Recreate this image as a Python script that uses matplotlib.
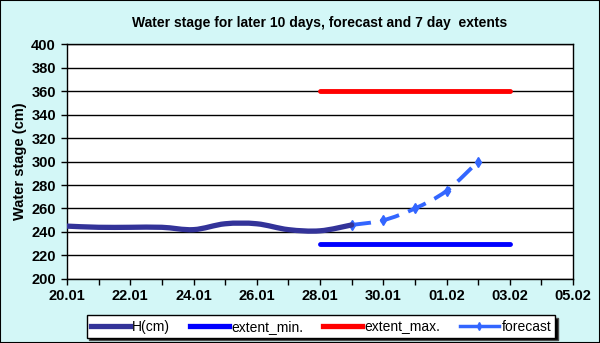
import numpy as np
import matplotlib
matplotlib.use("Agg")
import matplotlib.pyplot as plt
from matplotlib.path import Path
from matplotlib.patches import PathPatch, Rectangle
from matplotlib.lines import Line2D

# ---- data ----
tick_labels = ["20.01", "22.01", "24.01", "26.01", "28.01", "30.01", "01.02", "03.02", "05.02"]
h_days = [0, 1, 2, 3, 4, 5, 6, 7, 8, 9]          # days after 20.01
h_values = [245, 244, 244, 244, 242, 247, 247, 242, 241, 246]
fc_days = [9, 10, 11, 12, 13]
fc_values = [246, 250, 260, 275, 300]
ext_days = [8, 14]
ext_min = [230, 230]
ext_max = [360, 360]

title = "Water stage for later 10 days, forecast and 7 day  extents"
ylabel = "Water stage (cm)"

def smooth_path(xs, ys):
    pts = np.column_stack([xs, ys]).astype(float)
    n = len(pts)
    verts = [pts[0]]
    codes = [Path.MOVETO]
    for i in range(n - 1):
        p0 = pts[i - 1] if i > 0 else pts[i]
        p1 = pts[i]
        p2 = pts[i + 1]
        p3 = pts[i + 2] if i + 2 < n else pts[i + 1]
        c1 = p1 + (p2 - p0) / 6.0
        c2 = p2 - (p3 - p1) / 6.0
        verts += [c1, c2, p2]
        codes += [Path.CURVE4] * 3
    return Path(verts, codes)

FONT = "Liberation Sans"
bg = "#d3f7f7"
fig = plt.figure(figsize=(6.0, 3.43), dpi=100, facecolor=bg)
ax = fig.add_axes([0.1117, 0.1866, 0.955 - 0.1117, 0.8717 - 0.1866])
ax.set_facecolor("white")

ax.set_xlim(0, 16)
ax.set_ylim(200, 400)
ax.set_yticks(np.arange(200, 401, 20))
ax.set_xticks(np.arange(0, 17, 2))
ax.set_xticklabels(tick_labels)
ax.set_xticks(np.arange(0, 17, 1), minor=True)
ax.yaxis.grid(True, color="black", linewidth=1.0)
ax.set_axisbelow(True)
for s in ax.spines.values():
    s.set_color("black")
    s.set_linewidth(1.0)
ax.tick_params(axis="both", which="both", direction="out", color="black", length=4, width=1)
ax.tick_params(axis="x", labelsize=10.5, pad=3)
ax.tick_params(axis="y", labelsize=10.5, pad=4)
for lab in ax.get_xticklabels() + ax.get_yticklabels():
    lab.set_fontweight("bold")
    lab.set_family(FONT)

# extents
ax.plot(ext_days, ext_min, color="#0000ff", linewidth=3.5, solid_capstyle="round", zorder=3)
ax.plot(ext_days, ext_max, color="#ff0000", linewidth=3.5, solid_capstyle="round", zorder=3)

# forecast (smoothed, dashed)
fc_path = smooth_path(fc_days, fc_values)
ax.add_patch(PathPatch(fc_path, facecolor="none", edgecolor="#3366ff", linewidth=2.8,
                       linestyle=(0, (5, 2.5)), transform=ax.transData, zorder=4))
ax.plot(fc_days, fc_values, linestyle="none", marker="d", markersize=5,
        color="#3366ff", zorder=5)

# H (smoothed)
h_path = smooth_path(h_days, h_values)
ax.add_patch(PathPatch(h_path, facecolor="none", edgecolor="#333399", linewidth=3.8,
                       capstyle="round", transform=ax.transData, zorder=6))

ax.set_ylabel(ylabel, fontsize=10.5, fontweight="bold", family=FONT, labelpad=3)
fig.text(0.533, 0.934, title, ha="center", va="center", fontsize=10,
         fontweight="bold", family=FONT)

handles = [
    Line2D([], [], color="#333399", linewidth=3.8),
    Line2D([], [], color="#0000ff", linewidth=3.8),
    Line2D([], [], color="#ff0000", linewidth=3.8),
    Line2D([], [], color="#3366ff", linewidth=2.5, marker="d", markersize=4),
]
labels = ["H(cm)", "extent_min.", "extent_max.", "forecast"]
leg = fig.legend(handles, labels, loc="center", bbox_to_anchor=(0.535, 0.048), ncol=4,
                 frameon=True, fancybox=False,
                 shadow={"facecolor": "black", "alpha": 1.0},
                 prop={"family": FONT, "size": 10},
                 handlelength=2.8, handletextpad=0.2, columnspacing=1.4,
                 borderpad=0.3)
leg.get_frame().set_edgecolor("black")
leg.get_frame().set_linewidth(1.0)
leg.get_frame().set_facecolor("white")

fig.patches.append(Rectangle((0, 0), 1, 1, transform=fig.transFigure, fill=False,
                             edgecolor="black", linewidth=1.5))

fig.savefig("out.png", dpi=100, facecolor=bg)
